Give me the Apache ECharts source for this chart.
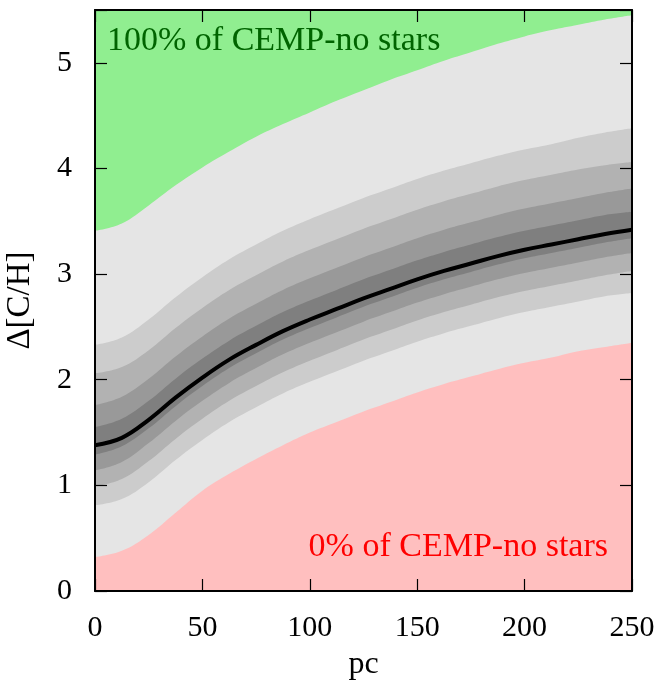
<!DOCTYPE html>
<html>
<head>
<meta charset="utf-8">
<script src="https://cdn.jsdelivr.net/npm/echarts@6/dist/echarts.min.js"></script>
<style>
  html, body { margin: 0; padding: 0; background: #fff; }
  #chart { width: 663px; height: 694px; }
</style>
</head>
<body>
<div id="chart"></div>
<script>
// x positions (pc)
const pcValues = [0, 12.5, 25, 37.5, 50, 62.5, 75, 87.5, 100, 112.5, 125, 137.5, 150, 162.5, 175, 187.5, 200, 212.5, 225, 237.5, 250];
// median curve Δ[C/H]
const medianLine = [1.38, 1.45, 1.62, 1.83, 2.02, 2.19, 2.33, 2.46, 2.57, 2.67, 2.77, 2.86, 2.95, 3.03, 3.10, 3.17, 3.23, 3.28, 3.33, 3.38, 3.42];
// band boundaries, from top to bottom
const upper100 = [3.41, 3.48, 3.65, 3.84, 4.01, 4.16, 4.30, 4.42, 4.53, 4.64, 4.74, 4.84, 4.93, 5.02, 5.10, 5.18, 5.25, 5.31, 5.36, 5.41, 5.45];
const upper4 = [2.33, 2.40, 2.57, 2.78, 2.97, 3.14, 3.28, 3.41, 3.52, 3.62, 3.72, 3.81, 3.90, 3.98, 4.05, 4.12, 4.18, 4.23, 4.29, 4.34, 4.38];
const upper3 = [2.06, 2.12, 2.28, 2.49, 2.68, 2.85, 2.99, 3.12, 3.23, 3.33, 3.43, 3.52, 3.61, 3.69, 3.76, 3.83, 3.89, 3.94, 3.99, 4.03, 4.06];
const upper2 = [1.76, 1.84, 2.01, 2.22, 2.41, 2.58, 2.72, 2.85, 2.96, 3.06, 3.16, 3.25, 3.34, 3.42, 3.49, 3.56, 3.62, 3.67, 3.72, 3.77, 3.81];
const upper1 = [1.55, 1.63, 1.80, 2.01, 2.20, 2.37, 2.51, 2.64, 2.75, 2.85, 2.95, 3.04, 3.13, 3.21, 3.28, 3.35, 3.41, 3.46, 3.51, 3.56, 3.59];
const lower1 = [1.29, 1.37, 1.54, 1.75, 1.94, 2.11, 2.25, 2.38, 2.49, 2.59, 2.69, 2.78, 2.87, 2.95, 3.02, 3.09, 3.15, 3.20, 3.25, 3.30, 3.34];
const lower2 = [1.14, 1.22, 1.40, 1.61, 1.80, 1.97, 2.11, 2.24, 2.35, 2.45, 2.55, 2.64, 2.73, 2.81, 2.88, 2.95, 3.01, 3.06, 3.11, 3.16, 3.20];
const lower3 = [0.99, 1.06, 1.23, 1.44, 1.63, 1.80, 1.94, 2.07, 2.18, 2.28, 2.38, 2.47, 2.56, 2.64, 2.71, 2.78, 2.84, 2.89, 2.94, 2.99, 3.03];
const lower4 = [0.81, 0.87, 1.03, 1.24, 1.43, 1.60, 1.74, 1.87, 1.98, 2.08, 2.18, 2.27, 2.36, 2.44, 2.51, 2.58, 2.64, 2.69, 2.74, 2.79, 2.82];
const lower0 = [0.32, 0.38, 0.53, 0.74, 0.95, 1.11, 1.25, 1.38, 1.50, 1.60, 1.70, 1.79, 1.88, 1.96, 2.03, 2.10, 2.16, 2.21, 2.27, 2.31, 2.35];

const xTicks = [0, 50, 100, 150, 200, 250];
const yTicks = [0, 1, 2, 3, 4, 5];

const FONT = 'Liberation Serif';

// fill order: each area fills from the curve down to the bottom of the axis
const layers = [
  { data: upper100, color: '#e5e5e5' },
  { data: upper4, color: '#cccccc' },
  { data: upper3, color: '#b2b2b2' },
  { data: upper2, color: '#999999' },
  { data: upper1, color: '#7f7f7f' },
  { data: lower1, color: '#999999' },
  { data: lower2, color: '#b2b2b2' },
  { data: lower3, color: '#cccccc' },
  { data: lower4, color: '#e5e5e5' },
  { data: lower0, color: '#ffbfbf' }
];

function pairs(arr) { return pcValues.map((x, i) => [x, arr[i]]); }

const SMOOTH = 0.4;

const series = layers.map((l, i) => ({
  type: 'line',
  data: pairs(l.data),
  smooth: SMOOTH,
  symbol: 'none',
  silent: true,
  z: 2 + i * 0.01,
  lineStyle: { width: 0, color: l.color },
  areaStyle: { color: l.color, opacity: 1, origin: 'start' }
}));

series.push({
  type: 'line',
  data: pairs(medianLine),
  smooth: SMOOTH,
  symbol: 'none',
  silent: true,
  z: 3,
  lineStyle: { width: 4, color: '#000' }
});

const axisCommon = {
  type: 'value',
  z: 10,
  axisLine: { show: true, onZero: false, lineStyle: { color: '#000', width: 2 } },
  axisTick: { show: true, inside: true, length: 12, lineStyle: { color: '#000', width: 1.2 } },
  splitLine: { show: false }
};

const chart = echarts.init(document.getElementById('chart'), null, { renderer: 'canvas' });
chart.setOption({
  backgroundColor: '#fff',
  animation: false,
  grid: {
    left: 95, right: 31, top: 10, bottom: 103,
    outerBoundsMode: 'none',
    containLabel: false,
    show: true, backgroundColor: '#90ee90', borderWidth: 0
  },
  xAxis: [
    Object.assign({}, axisCommon, {
      min: 0, max: 250, interval: 50, position: 'bottom',
      name: 'pc', nameLocation: 'middle', nameGap: 58,
      nameTextStyle: { fontFamily: FONT, fontSize: 32, color: '#000' },
      axisLabel: { fontFamily: FONT, fontSize: 30, color: '#000', margin: 22,
        formatter: v => xTicks.includes(v) ? String(v) : '' }
    }),
    Object.assign({}, axisCommon, {
      min: 0, max: 250, interval: 50, position: 'top',
      axisLabel: { show: false }
    })
  ],
  yAxis: [
    Object.assign({}, axisCommon, {
      min: 0, max: 5.5, interval: 1, position: 'left',
      name: 'Δ[C/H]', nameLocation: 'middle', nameGap: 58, nameRotate: 90,
      nameTextStyle: { fontFamily: FONT, fontSize: 33, color: '#000' },
      axisLabel: { fontFamily: FONT, fontSize: 30, color: '#000', margin: 23,
        formatter: v => yTicks.includes(v) ? String(v) : '' }
    }),
    Object.assign({}, axisCommon, {
      min: 0, max: 5.5, interval: 1, position: 'right',
      axisLabel: { show: false }
    })
  ],
  graphic: [
    { type: 'text', left: 107, top: 24, z: 20,
      style: { text: '100% of CEMP-no stars', fill: '#006400', font: '34px "Liberation Serif"' } },
    { type: 'text', right: 55, top: 530, z: 20,
      style: { text: '0% of CEMP-no stars', fill: '#ff0000', font: '34px "Liberation Serif"' } }
  ],
  series: series
});
</script>
</body>
</html>
